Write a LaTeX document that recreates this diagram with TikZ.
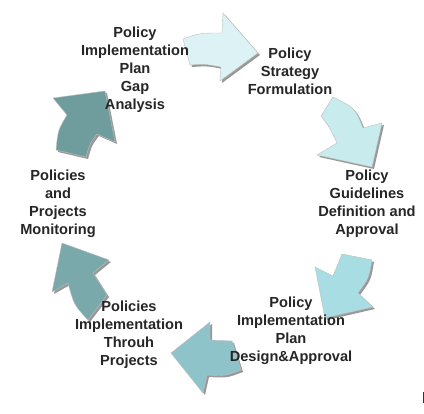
\documentclass[tikz,border=0pt]{standalone}
\usepackage{fontspec}
\setmainfont{Liberation Sans}
\usetikzlibrary{shadows}
\definecolor{stepone}{HTML}{DDF2F4}
\definecolor{steptwo}{HTML}{C8EBEE}
\definecolor{stepthree}{HTML}{A8DEE3}
\definecolor{stepfour}{HTML}{8EC4C9}
\definecolor{stepfive}{HTML}{79A9AA}
\definecolor{stepsix}{HTML}{6F9D9D}
\tikzset{
  cyclearrow/.style={draw=gray!50, line width=0.4pt,
    drop shadow={shadow xshift=2pt, shadow yshift=-2pt, fill=black!50, opacity=0.8}},
  stage/.style={align=center, inner sep=0pt, text=black!85,
    font=\fontsize{14.6}{18}\selectfont\bfseries}
}

\begin{document}
\begin{tikzpicture}[x=1pt, y=-1pt]
\useasboundingbox (0,0) rectangle (424,414);
\fill[white] (0,0) rectangle (424,414);

\path[cyclearrow, fill=stepone] (183,39) .. controls (200,33) .. (222,33) -- (223,13) -- (258,53)
  -- (220,81) -- (221,67) .. controls (205,64) .. (190,65) -- cycle;
\path[cyclearrow, fill=steptwo] (333,97) -- (321,116) .. controls (330,128) .. (337,143) -- (317,155)
  -- (372,167) -- (382,123) -- (363,128) .. controls (355,108) .. cycle;
\path[cyclearrow, fill=stepthree] (342,254) -- (372,260) .. controls (369,278) .. (358,293) -- (373,307)
  -- (325,318) -- (315,267) -- (333,276) -- cycle;
\path[cyclearrow, fill=stepfour] (171,353) -- (210,322) -- (210,340) -- (232,341) -- (241,370)
  .. controls (225,376) .. (207,375) -- (203,393) -- cycle;
\path[cyclearrow, fill=stepfive] (62,243) -- (109,260) -- (93,273) -- (107,295) -- (88,320)
  .. controls (74,305) .. (68,283) -- (52,292) -- cycle;
\path[cyclearrow, fill=stepsix] (105,91) -- (115,142) -- (97,134) .. controls (90,143) .. (86,157)
  -- (56,150) .. controls (58,130) .. (67,115) -- (53,98) -- cycle;

\node[stage] (gap) at (135,70) {Policy\\Implementation\\Plan\\Gap\\Analysis};
\node[stage] (strategy) at (290,71) {Policy\\Strategy\\Formulation};
\node[stage] (guidelines) at (367,204) {Policy\\Guidelines\\Definition and\\Approval};
\node[stage] (design) at (291,331) {Policy\\Implementation\\Plan\\Design\&Approval};
\node[stage] (projects) at (129,335) {Policies\\Implementation\\Throuh\\Projects};
\node[stage] (monitoring) at (58,204) {Policies\\and\\Projects\\Monitoring};

\draw[black!80, line width=0.8pt] (423,392) -- (423,403);
\end{tikzpicture}
\end{document}
